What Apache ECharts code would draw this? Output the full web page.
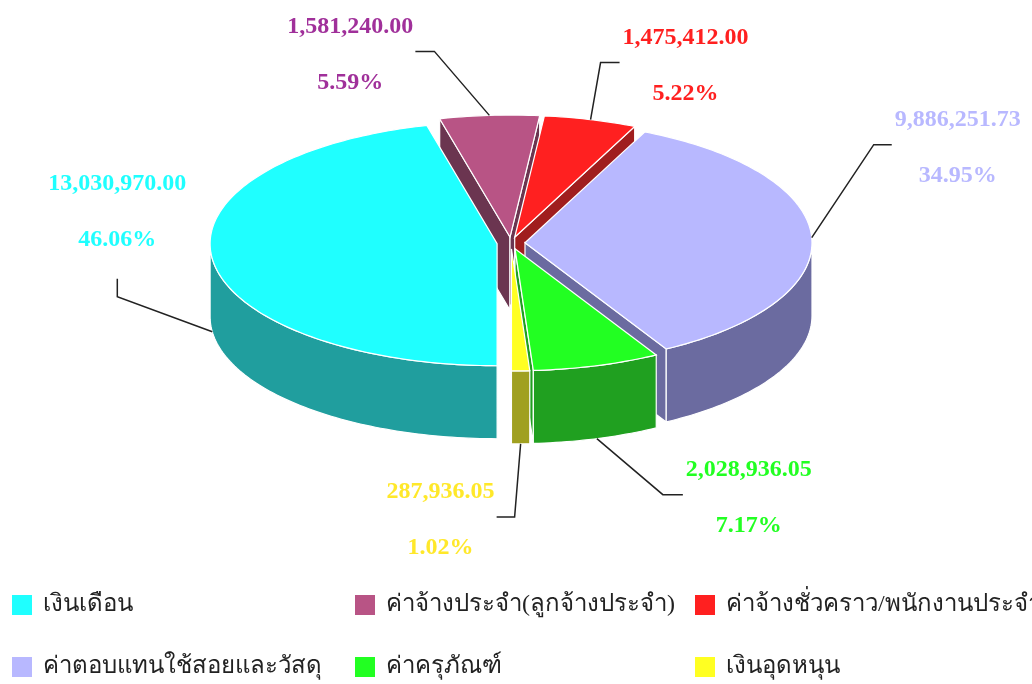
<!DOCTYPE html>
<html>
<head>
<meta charset="utf-8">
<title>งบประมาณ</title>
<script src="https://cdn.jsdelivr.net/npm/echarts@6/dist/echarts.min.js"></script>
<style>
html, body { margin: 0; padding: 0; background: #fff; }
#main { width: 1032px; height: 684px; }
</style>
</head>
<body>
<div id="main"></div>
<script>
var names = ['เงินเดือน', 'ค่าจ้างประจำ(ลูกจ้างประจำ)', 'ค่าจ้างชั่วคราว/พนักงานประจำ', 'ค่าตอบแทนใช้สอยและวัสดุ', 'ค่าครุภัณฑ์', 'เงินอุดหนุน'];
var values = [13030970.00, 1581240.00, 1475412.00, 9886251.73, 2028936.05, 287936.05];

var topColors = ['#1fffff', '#b85485', '#ff2020', '#b8b8ff', '#22ff22', '#ffff22'];
var sideColors = ['#209e9e', '#6b3550', '#a01e1e', '#6b6ba0', '#20a020', '#a0a020'];
var labelColors = ['#1fffff', '#a0309a', '#ff2020', '#b8b8ff', '#22ff22', '#ffe82a'];

// pie geometry (pixels)
var cx = 511, cy = 243, rx = 287, ry = 122, depth = 73, explode = 14;
// label line: elbow offset from anchor, then last segment
var labelLayout = [
    {elbow: [-95, -35], end: [0, -18]},
    {elbow: [-55, -64], end: [-19, 0]},
    {elbow: [10, -57], end: [19, 0]},
    {elbow: [62, -93], end: [18, 0]},
    {elbow: [66, 56], end: [20, 0]},
    {elbow: [-6, 73], end: [-18, 0]}
];
// legend grid: 3 columns x 2 rows
var legendLeft = [7, 350, 690];
var legendTop = [588, 650];

var total = values.reduce(function (s, v) { return s + v; }, 0);

// clockwise from 6 o'clock, math angles in radians
function sliceAngles(i) {
    var before = 0;
    for (var k = 0; k < i; k++) before += values[k];
    var a1 = Math.PI * 1.5 - before / total * Math.PI * 2;
    return [a1, a1 - values[i] / total * Math.PI * 2];
}

function fmtValue(v) {
    return v.toLocaleString('en-US', {minimumFractionDigits: 2, maximumFractionDigits: 2});
}

function renderSlice(params, api) {
    var i = params.seriesIndex;
    var v = api.value(0);
    var ang = sliceAngles(i);
    var a1 = ang[0], a2 = ang[1], mid = (a1 + a2) / 2;
    var c = [cx + explode * Math.cos(mid), cy - explode * Math.sin(mid) * ry / rx];
    var children = [];

    function rim(a, dy) {
        return [c[0] + rx * Math.cos(a), c[1] - ry * Math.sin(a) + (dy || 0)];
    }
    function arc(from, to, dy) {
        var n = Math.max(2, Math.ceil(Math.abs(from - to) / 0.02));
        var pts = [];
        for (var k = 0; k <= n; k++) pts.push(rim(from + (to - from) * k / n, dy));
        return pts;
    }
    function face(points, fill, z2) {
        children.push({
            type: 'polygon',
            shape: {points: points},
            style: {fill: fill, stroke: '#ffffff', lineWidth: 1.2},
            z2: z2
        });
    }

    var down = [c[0], c[1] + depth];
    // radial walls facing the viewer
    if (Math.cos(a1) < -0.01) face([c, rim(a1), rim(a1, depth), down], sideColors[i], 1);
    if (Math.cos(a2) > 0.01) face([c, rim(a2), rim(a2, depth), down], sideColors[i], 1);
    // outer wall, front half only
    [[Math.PI, Math.PI * 2], [-Math.PI, 0]].forEach(function (r) {
        var hi = Math.min(a1, r[1]), lo = Math.max(a2, r[0]);
        if (hi > lo) face(arc(hi, lo, 0).concat(arc(lo, hi, depth)), sideColors[i], 2);
    });
    // top
    face([c].concat(arc(a1, a2, 0)), topColors[i], 3);

    // label line + text
    var anchor = Math.sin(mid) < 0 ? rim(mid, depth) : rim(mid);
    var lay = labelLayout[i];
    var elbow = [anchor[0] + lay.elbow[0], anchor[1] + lay.elbow[1]];
    var end = [elbow[0] + lay.end[0], elbow[1] + lay.end[1]];
    children.push({
        type: 'polyline',
        shape: {points: [anchor, elbow, end]},
        style: {stroke: '#222222', lineWidth: 1.5, fill: 'none'},
        z2: 4
    });

    var tok = {
        align: 'center', lineHeight: 56, fontSize: 24, fontWeight: 'bold',
        fontFamily: '"Liberation Serif", "Times New Roman", serif', fill: labelColors[i]
    };
    var ts = {
        text: '{v|' + fmtValue(v) + '}\n{p|' + (v / total * 100).toFixed(2) + '%}',
        fill: labelColors[i],
        fontSize: 24, fontWeight: 'bold', fontFamily: tok.fontFamily,
        rich: {v: tok, p: tok}
    };
    if (lay.end[1] !== 0) {
        ts.x = end[0]; ts.y = end[1] - 11; ts.align = 'center'; ts.verticalAlign = 'bottom';
    } else if (lay.end[0] < 0) {
        ts.x = end[0] - 2; ts.y = end[1] + 3; ts.align = 'right'; ts.verticalAlign = 'middle';
    } else {
        ts.x = end[0] + 3; ts.y = end[1] + 3; ts.align = 'left'; ts.verticalAlign = 'middle';
    }
    children.push({type: 'text', style: ts, z2: 5});

    return {type: 'group', children: children};
}

// one legend per item so the columns line up
var legends = names.map(function (n, i) {
    return {
        left: legendLeft[i % 3],
        top: legendTop[Math.floor(i / 3)],
        icon: 'rect',
        itemWidth: 20,
        itemHeight: 20,
        selectedMode: false,
        data: [n],
        textStyle: {
            fontSize: 24,
            color: '#222222',
            fontFamily: '"Liberation Serif", "Times New Roman", serif',
            padding: [0, 0, 0, 6]
        }
    };
});

var myChart = echarts.init(document.getElementById('main'));
myChart.setOption({
    animation: false,
    backgroundColor: '#ffffff',
    legend: legends,
    series: names.map(function (n, i) {
        return {
            type: 'custom',
            name: n,
            coordinateSystem: 'none',
            silent: true,
            itemStyle: {color: topColors[i]},
            renderItem: renderSlice,
            data: [values[i]]
        };
    })
});
</script>
</body>
</html>
